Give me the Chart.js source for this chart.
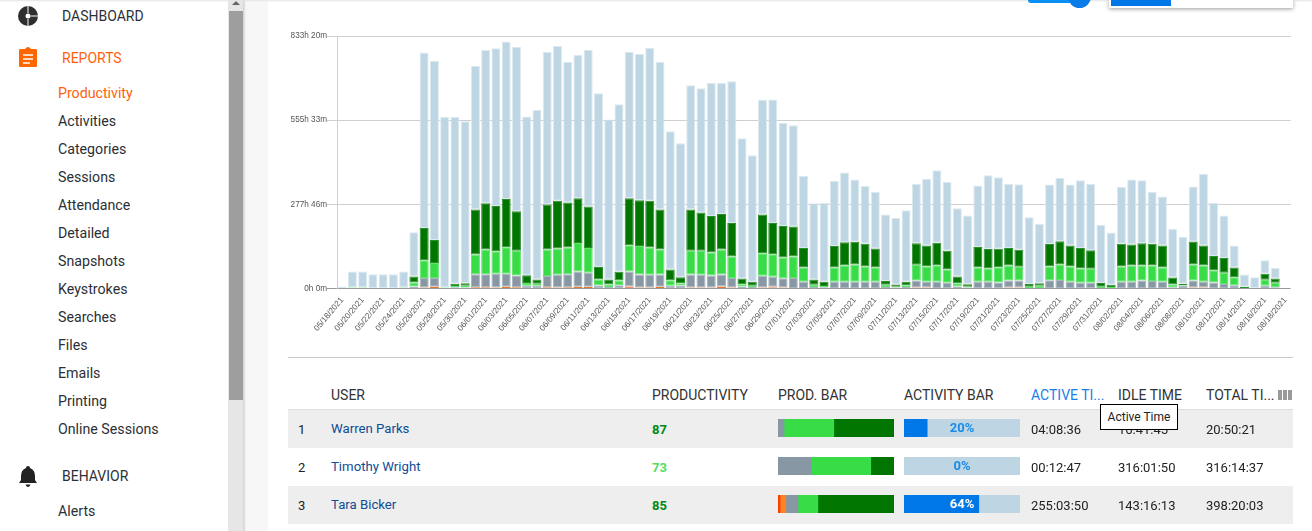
<!DOCTYPE html>
<html><head><meta charset="utf-8">
<script src="https://cdn.jsdelivr.net/npm/chart.js@4"></script>
<style>
html,body{margin:0;padding:0;width:1312px;height:531px;overflow:hidden;background:#fff;font-family:Roboto,sans-serif;color:#333}
.abs,.nav,.cell{position:absolute;white-space:nowrap}
.nav{font-size:14.2px;line-height:18px;color:#2b2f36}
.hd{font-size:14px;line-height:18px;color:#333;top:386px;position:absolute;white-space:nowrap}
.cell{font-size:13px;line-height:18px;color:#222}
.row{position:absolute;left:288px;width:1005px;height:38px}
.name{color:#0f4c94;font-size:13.2px}
.score{font-weight:700}
.pct{position:absolute;width:116px;text-align:center;font-size:13px;font-weight:700;line-height:18px;color:#1a8be8}
canvas{display:block}
.mini{position:absolute;width:116px;height:18px}
</style></head><body>
<div class="abs" style="left:245px;top:0;width:23px;height:531px;background:#f7f7f7"></div>
<div class="abs" style="left:243px;top:0;width:3px;height:531px;background:linear-gradient(90deg,#cfcfcf,#f7f7f7)"></div>
<div class="abs" style="left:228px;top:0;width:15px;height:531px;background:#e6e6e6"></div>
<div class="abs" style="left:229px;top:11px;width:14px;height:389px;background:#9e9e9e"></div>
<svg class="abs" style="left:231px;top:0" width="10" height="6"><path d="M1 5L5 1L9 5Z" fill="#666"/></svg>
<div class="abs" style="left:0;top:0;width:1312px;height:2px;background:linear-gradient(#e4e4e4,rgba(255,255,255,0))"></div>

<svg class="abs" style="left:17px;top:5px" width="22" height="22"><circle cx="11" cy="11" r="10" fill="#2e2e2e"/><path d="M11 0V8M11 14V22M14 11H22" stroke="#fff" stroke-width="1"/><circle cx="11" cy="11" r="2.5" fill="#fff"/></svg>
<div class="nav" style="left:62px;top:7px;font-size:14px">DASHBOARD</div>
<svg class="abs" style="left:18px;top:46px" width="20" height="22"><path d="M2 3H7Q10 -1 13 3H18Q19 3 19 5V20Q19 21 18 21H2Q1 21 1 20V5Q1 3 2 3Z" fill="#ff6600"/><path d="M5 9H15M5 13H15M5 17H12" stroke="#fff" stroke-width="1.6"/></svg>
<div class="nav" style="left:62px;top:49px;font-size:14px;color:#ff5f0a">REPORTS</div>
<div class="nav" style="left:58px;top:84px;color:#ff5f0a">Productivity</div>
<div class="nav" style="left:58px;top:112px">Activities</div>
<div class="nav" style="left:58px;top:140px">Categories</div>
<div class="nav" style="left:58px;top:168px">Sessions</div>
<div class="nav" style="left:58px;top:196px">Attendance</div>
<div class="nav" style="left:58px;top:224px">Detailed</div>
<div class="nav" style="left:58px;top:252px">Snapshots</div>
<div class="nav" style="left:58px;top:280px">Keystrokes</div>
<div class="nav" style="left:58px;top:308px">Searches</div>
<div class="nav" style="left:58px;top:336px">Files</div>
<div class="nav" style="left:58px;top:364px">Emails</div>
<div class="nav" style="left:58px;top:392px">Printing</div>
<div class="nav" style="left:58px;top:420px">Online Sessions</div>
<svg class="abs" style="left:18px;top:465px" width="20" height="22"><path d="M10 1Q12 1 12 3Q17 5 17 11V15L19 18H1L3 15V11Q3 5 8 3Q8 1 10 1Z" fill="#222"/><path d="M7.5 19.5H12.5Q11.5 22 10 22Q8.5 22 7.5 19.5Z" fill="#222"/></svg>
<div class="nav" style="left:62px;top:467px;font-size:14px">BEHAVIOR</div>
<div class="nav" style="left:58px;top:502px">Alerts</div>

<div class="abs" style="left:1028px;top:0;width:44px;height:3px;background:#0a8ff5;border-radius:0 0 3px 3px"></div>
<div class="abs" style="left:1068px;top:-15px;width:23px;height:23px;border-radius:50%;background:#0a7ce8"></div>
<div class="abs" style="left:1109px;top:0;width:184px;height:8px;background:#fff;box-shadow:0 1px 4px rgba(0,0,0,.4)"></div>
<div class="abs" style="left:1111px;top:0;width:60px;height:6px;background:#0077e6"></div>

<div class="abs" style="left:288px;top:26px;width:1012px;height:320px"><canvas id="main" width="1012" height="320" style="width:1012px;height:320px"></canvas></div>

<div class="abs" style="left:288px;top:357px;width:1005px;height:1px;background:#ccc"></div>
<div class="hd" style="left:331px">USER</div>
<div class="hd" style="left:652px">PRODUCTIVITY</div>
<div class="hd" style="left:778px">PROD. BAR</div>
<div class="hd" style="left:904px">ACTIVITY BAR</div>
<div class="hd" style="left:1031px;color:#1a7fe8">ACTIVE TI...</div>
<div class="hd" style="left:1118px">IDLE TIME</div>
<div class="hd" style="left:1206px">TOTAL TI...</div>
<svg class="abs" style="left:1278px;top:390px" width="14" height="10"><path d="M0 0h4v10h-4zM5 0h4v10h-4zM10 0h4v10h-4z" fill="#9a9a9a"/></svg>
<div class="row" style="top:410px;background:#eee;border-top:0"></div>
<div class="abs" style="left:288px;top:409px;width:1005px;height:1px;background:#ddd"></div>
<div class="row" style="top:486px;background:#eee"></div>

<div class="cell" style="left:298px;top:421px">1</div>
<div class="cell name" style="left:331px;top:420px">Warren Parks</div>
<div class="cell score" style="left:652px;top:421px;color:#008a12">87</div>
<div class="mini" style="left:778px;top:419px"><canvas id="p0" width="116" height="18"></canvas></div>
<div class="mini" style="left:904px;top:419px"><canvas id="a0" width="116" height="18"></canvas></div>
<div class="pct" style="left:904px;top:419px">20%</div>
<div class="cell" style="left:1031px;top:421px">04:08:36</div>
<div class="cell" style="left:1118px;top:421px">16:41:45</div>
<div class="cell" style="left:1206px;top:421px">20:50:21</div>

<div class="cell" style="left:298px;top:459px">2</div>
<div class="cell name" style="left:331px;top:458px">Timothy Wright</div>
<div class="cell score" style="left:652px;top:459px;color:#55dd62">73</div>
<div class="mini" style="left:778px;top:457px"><canvas id="p1" width="116" height="18"></canvas></div>
<div class="mini" style="left:904px;top:457px"><canvas id="a1" width="116" height="18"></canvas></div>
<div class="pct" style="left:904px;top:457px">0%</div>
<div class="cell" style="left:1031px;top:459px">00:12:47</div>
<div class="cell" style="left:1118px;top:459px">316:01:50</div>
<div class="cell" style="left:1206px;top:459px">316:14:37</div>

<div class="cell" style="left:298px;top:497px">3</div>
<div class="cell name" style="left:331px;top:496px">Tara Bicker</div>
<div class="cell score" style="left:652px;top:497px;color:#008a12">85</div>
<div class="mini" style="left:778px;top:495px"><canvas id="p2" width="116" height="18"></canvas></div>
<div class="mini" style="left:904px;top:495px"><canvas id="a2" width="116" height="18"></canvas></div>
<div class="pct" style="left:904px;top:495px;color:#fff">64%</div>
<div class="cell" style="left:1031px;top:497px">255:03:50</div>
<div class="cell" style="left:1118px;top:497px">143:16:13</div>
<div class="cell" style="left:1206px;top:497px">398:20:03</div>

<div class="abs" style="left:1100px;top:404px;width:76px;height:24px;background:#fff;border:1px solid #000;font-size:12px;line-height:24px;text-align:center;color:#222">Active Time</div>

<script>
const categories = ["05/18/2021","05/19/2021","05/20/2021","05/21/2021","05/22/2021","05/23/2021","05/24/2021","05/25/2021","05/26/2021","05/27/2021","05/28/2021","05/29/2021","05/30/2021","05/31/2021","06/01/2021","06/02/2021","06/03/2021","06/04/2021","06/05/2021","06/06/2021","06/07/2021","06/08/2021","06/09/2021","06/10/2021","06/11/2021","06/12/2021","06/13/2021","06/14/2021","06/15/2021","06/16/2021","06/17/2021","06/18/2021","06/19/2021","06/20/2021","06/21/2021","06/22/2021","06/23/2021","06/24/2021","06/25/2021","06/26/2021","06/27/2021","06/28/2021","06/29/2021","06/30/2021","07/01/2021","07/02/2021","07/03/2021","07/04/2021","07/05/2021","07/06/2021","07/07/2021","07/08/2021","07/09/2021","07/10/2021","07/11/2021","07/12/2021","07/13/2021","07/14/2021","07/15/2021","07/16/2021","07/17/2021","07/18/2021","07/19/2021","07/20/2021","07/21/2021","07/22/2021","07/23/2021","07/24/2021","07/25/2021","07/26/2021","07/27/2021","07/28/2021","07/29/2021","07/30/2021","07/31/2021","08/01/2021","08/02/2021","08/03/2021","08/04/2021","08/05/2021","08/06/2021","08/07/2021","08/08/2021","08/09/2021","08/10/2021","08/11/2021","08/12/2021","08/13/2021","08/14/2021","08/15/2021","08/16/2021","08/17/2021","08/18/2021"];
const redHours = [0,0,0,0,0,0,0,0,0,0,0,0,0,0,0,0,0,0,0,0,0,0,0,0,0,0,0,0,4,0,0,0,0,0,0,0,0,0,0,0,0,0,3,0,0,0,0,0,0,0,0,0,0,0,0,0,0,0,0,0,0,0,0,0,0,0,0,0,0,0,0,0,0,0,0,0,0,0,0,0,0,0,0,0,0,0,0,0,0,0,0,0,0];
const orangeHours = [0,0,0,0,0,0,0,1,3,6,0,1,1,4,4,3,6,4,1,1,4,3,4,6,6,1,1,1,3,3,3,6,1,1,3,3,3,7,3,1,1,3,3,3,2,2,1,1,2,2,2,2,2,1,0,1,3,3,2,1,0,0,1,1,1,3,3,0,0,2,2,2,1,1,0,0,2,2,2,2,1,0,0,3,3,2,0,0,0,0,0,0,0];
const grayHours = [1,1,1,1,1,1,1,6,32,29,1,3,2,43,43,46,43,39,8,8,37,42,43,50,46,9,4,10,49,43,42,40,8,9,43,42,40,39,32,6,4,39,33,31,33,20,4,3,20,20,20,20,20,4,3,4,23,19,20,18,7,3,21,21,19,23,23,2,2,25,26,20,18,18,2,2,20,20,24,23,21,4,9,23,19,18,15,11,1,0,9,4,0];
const lightGreenHours = [0,2,2,0,0,0,2,13,58,49,2,4,6,65,82,74,87,82,9,7,88,87,88,94,82,20,8,15,87,94,90,83,18,7,79,80,76,83,71,7,4,74,74,68,71,47,7,4,47,54,57,51,47,7,3,6,52,51,55,44,10,3,47,44,50,50,46,4,7,46,51,51,47,46,4,3,51,54,50,51,47,9,1,53,54,40,37,26,1,2,20,15,0];
const darkGreenHours = [0,0,0,0,0,0,0,20,107,76,0,8,8,149,152,149,159,130,26,14,148,158,149,148,137,41,17,29,155,151,155,132,36,20,136,126,120,117,110,19,13,128,103,104,99,65,18,14,71,77,75,75,63,13,7,11,71,69,74,62,23,8,68,64,61,58,56,9,8,74,77,69,68,61,12,7,75,69,73,72,73,23,6,76,66,47,49,32,4,0,20,14,0];
const idleHours = [6,53,53,46,46,46,53,146,579,591,564,550,535,474,506,521,520,542,524,559,504,510,464,473,517,573,528,553,483,483,504,487,456,442,410,410,439,432,468,463,418,379,408,340,334,238,251,261,215,230,206,190,187,219,220,236,197,220,239,227,225,227,203,244,236,211,216,220,197,196,209,201,223,220,192,173,188,215,208,171,162,161,154,182,237,176,140,73,40,35,44,35,0];
const yTickValues = [0,277.7778,555.5556,833.3333];
const yTickLabels = ["0h 0m","277h 46m","555h 33m","833h 20m"];
const yMax = 833.3333;
const seriesNames = ["Red","Orange","Neutral","Productive","Very productive","Idle"];
const seriesFill = ["#f0440f","#e9782c","#8797a3","#38dc47","#007500","#bed6e3"];
const seriesEdge = ["#f0440f","#e9782c","#a7b5bf","#5ee36a","#2b8f2b","#dce9f0"];
const prodSeriesFill = ["#ff3b00","#ff8426","#8797a3","#38dc47","#007500"];
const prodRows = [[0,0,5.2,42.9,51.9],[0,0,28.5,51.5,20],[1.7,5,10.5,17.2,65.6]];
const activityRows = [[20,80],[0,100],[64.5,35.5]];
const activityFill = ["#0077e6","#bed6e3"];

const mainSeries = [redHours,orangeHours,grayHours,lightGreenHours,darkGreenHours,idleHours];
new Chart(document.getElementById("main"),{
  type:"bar",
  data:{labels:categories,datasets:mainSeries.map((d,i)=>({label:seriesNames[i],data:d,backgroundColor:seriesFill[i],borderColor:seriesEdge[i],borderWidth:1,borderSkipped:false,barPercentage:0.88,categoryPercentage:1}))},
  options:{
    responsive:false,animation:false,devicePixelRatio:1,
    layout:{padding:{top:10,left:0,right:0,bottom:0}},
    plugins:{legend:{display:false},tooltip:{enabled:false}},
    scales:{
      x:{stacked:true,offset:true,
        afterFit(a){a.height=57.5;},
        grid:{display:false,drawTicks:false},
        border:{display:false},
        ticks:{autoSkip:false,minRotation:50,maxRotation:50,padding:7,font:{size:8.2,family:"Arial,'Liberation Sans',sans-serif"},color:"#555",
          callback(v,i){return i%2===0?this.getLabelForValue(v):"";}}
      },
      y:{stacked:true,min:0,max:yMax,
        afterBuildTicks(a){a.ticks=yTickValues.map(v=>({value:v}));},
        afterFit(a){a.width=49;},
        grid:{color:ctx=>ctx.index===0?"#999":"#cfcfcf",lineWidth:1,tickLength:10},
        border:{display:true,color:"#cfcfcf"},
        ticks:{padding:0,font:{size:8.2,family:"Arial,'Liberation Sans',sans-serif"},color:"#555",
          callback(v,i){return yTickLabels[i];}}
      }
    }
  }
});
function mini(id,rows,fills){
  const kept=rows.map((v,i)=>({v,c:fills[i]})).filter(s=>s.v>0);
  new Chart(document.getElementById(id),{
    type:"bar",
    data:{labels:[""],datasets:kept.map(s=>({data:[s.v],backgroundColor:s.c,borderWidth:0,barPercentage:1,categoryPercentage:1}))},
    options:{indexAxis:"y",responsive:false,animation:false,devicePixelRatio:1,
      layout:{padding:0},plugins:{legend:{display:false},tooltip:{enabled:false}},
      scales:{x:{stacked:true,min:0,max:100,display:false},y:{stacked:true,display:false}}}
  });
}
prodRows.forEach((r,i)=>mini("p"+i,r,prodSeriesFill));
activityRows.forEach((r,i)=>mini("a"+i,r,activityFill));
</script>
</body></html>
